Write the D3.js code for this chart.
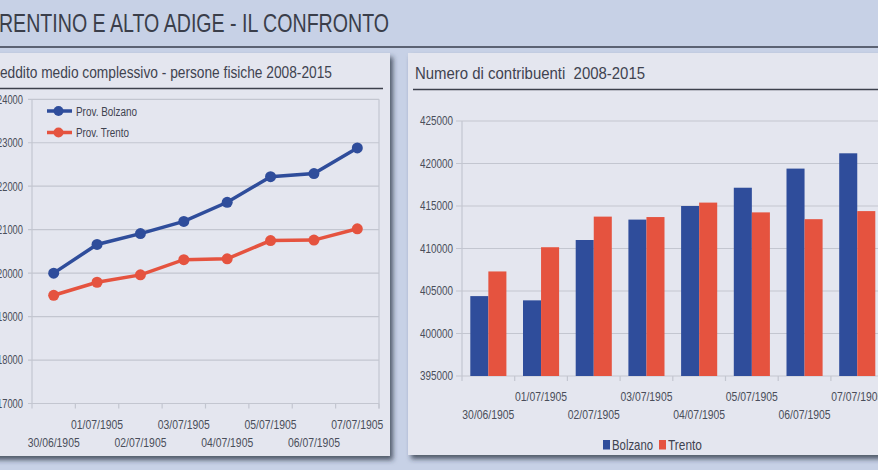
<!DOCTYPE html>
<html>
<head>
<meta charset="utf-8">
<script src="https://cdn.jsdelivr.net/npm/d3@7"></script>
<style>
  body { margin: 0; background: #c7d1e6; }
  text { font-family: "Liberation Sans", Arial, sans-serif; fill: #3f4350; white-space: pre; }
  .tick { font-size: 12.5px; fill: #4a4e5a; }
</style>
</head>
<body>
<div id="chart"></div>
<script>
const anni = ["30/06/1905", "01/07/1905", "02/07/1905", "03/07/1905",
              "04/07/1905", "05/07/1905", "06/07/1905", "07/07/1905"];
const redditoBolzano = [20000, 20660, 20910, 21190, 21630, 22220, 22290, 22880];
const redditoTrento  = [19490, 19790, 19960, 20310, 20330, 20750, 20760, 21020];
const redditoTicks = [17000, 18000, 19000, 20000, 21000, 22000, 23000, 24000];

const contribBolzano = [404400, 403900, 411000, 413400, 415000, 417150, 419400, 421200];
const contribTrento  = [407300, 410150, 413750, 413700, 415400, 414250, 413450, 414400];
const contribTicks = [395000, 400000, 405000, 410000, 415000, 420000, 425000];

const blu = "#2f4d9b";
const rosso = "#e5533f";

const svg = d3.select("#chart")
    .append("svg")
    .attr("width", 878)
    .attr("height", 470);

const defs = svg.append("defs");
const f = defs.append("filter").attr("id", "ombra")
    .attr("x", "-5%").attr("y", "-5%").attr("width", "115%").attr("height", "115%");
f.append("feDropShadow").attr("dx", 3).attr("dy", 4).attr("stdDeviation", 2.5)
    .attr("flood-color", "#2a3040").attr("flood-opacity", 0.75);

// titolo pagina (la T iniziale esce dal bordo, come nell'originale)
svg.append("text")
    .attr("x", 389).attr("y", 32)
    .attr("text-anchor", "end")
    .attr("textLength", 402).attr("lengthAdjust", "spacingAndGlyphs")
    .style("font-size", "26px")
    .style("fill", "#3a3e4a")
    .text("TRENTINO E ALTO ADIGE - IL CONFRONTO");

svg.append("line")
    .attr("x1", 0).attr("x2", 878).attr("y1", 47).attr("y2", 47)
    .attr("stroke", "#5b6273").attr("stroke-width", 2);

// pannelli
svg.append("rect").attr("x", -10).attr("y", 53).attr("width", 400).attr("height", 403)
    .attr("fill", "#e4e6ef").attr("filter", "url(#ombra)");
svg.append("rect").attr("x", 408).attr("y", 53).attr("width", 490).attr("height", 402)
    .attr("fill", "#e4e6ef").attr("filter", "url(#ombra)");

// ---------- grafico a linee ----------
const left = svg.append("g");

left.append("text")
    .attr("x", 332).attr("y", 78)
    .attr("text-anchor", "end")
    .attr("textLength", 342).attr("lengthAdjust", "spacingAndGlyphs")
    .style("font-size", "16px")
    .text("Reddito medio complessivo - persone fisiche 2008-2015");
left.append("line")
    .attr("x1", 0).attr("x2", 383).attr("y1", 88.5).attr("y2", 88.5)
    .attr("stroke", "#3c404c").attr("stroke-width", 1.5);

const xL = d3.scaleBand().domain(anni).range([32, 379]);
const yL = d3.scaleLinear().domain([17000, 24000]).range([403.5, 99.3]);

left.selectAll(".grid")
    .data(redditoTicks)
    .join("line")
    .attr("x1", 28).attr("x2", 379)
    .attr("y1", d => yL(d)).attr("y2", d => yL(d))
    .attr("stroke", "#c3c6d0").attr("stroke-width", 1.2);

left.append("line").attr("x1", 32).attr("x2", 32).attr("y1", yL(24000)).attr("y2", yL(17000) + 5)
    .attr("stroke", "#c3c6d0").attr("stroke-width", 1.2);
left.append("line").attr("x1", 379).attr("x2", 379).attr("y1", yL(24000)).attr("y2", yL(17000) + 5)
    .attr("stroke", "#c3c6d0").attr("stroke-width", 1.2);

left.selectAll(".ytick")
    .data(redditoTicks)
    .join("text")
    .attr("class", "tick")
    .attr("x", 23).attr("y", d => yL(d))
    .attr("dy", "0.35em")
    .attr("text-anchor", "end")
    .attr("textLength", 26).attr("lengthAdjust", "spacingAndGlyphs")
    .text(d => d);

left.selectAll(".xtick")
    .data(anni)
    .join("line")
    .attr("x1", d => xL(d) + xL.bandwidth()).attr("x2", d => xL(d) + xL.bandwidth())
    .attr("y1", yL(17000)).attr("y2", yL(17000) + 5)
    .attr("stroke", "#c3c6d0").attr("stroke-width", 1.2);

left.selectAll(".xlab")
    .data(anni)
    .join("text")
    .attr("class", "tick")
    .attr("x", d => xL(d) + xL.bandwidth() / 2)
    .attr("y", (d, i) => i % 2 ? 429 : 447)
    .attr("text-anchor", "middle")
    .attr("textLength", 52).attr("lengthAdjust", "spacingAndGlyphs")
    .text(d => d);

const serieL = [
    {nome: "Prov. Bolzano", valori: redditoBolzano, colore: blu, w: 61},
    {nome: "Prov. Trento", valori: redditoTrento, colore: rosso, w: 53}
];

const line = d3.line()
    .x((d, i) => xL(anni[i]) + xL.bandwidth() / 2)
    .y(d => yL(d));

serieL.forEach((s, k) => {
    left.append("path")
        .datum(s.valori)
        .attr("fill", "none")
        .attr("stroke", s.colore)
        .attr("stroke-width", 3.5)
        .attr("d", line);
    left.selectAll(".p" + k)
        .data(s.valori)
        .join("circle")
        .attr("cx", (d, i) => xL(anni[i]) + xL.bandwidth() / 2)
        .attr("cy", d => yL(d))
        .attr("r", 5.5)
        .attr("fill", s.colore);

    // legenda
    const ly = 111 + k * 21.5;
    left.append("line").attr("x1", 47).attr("x2", 72).attr("y1", ly).attr("y2", ly)
        .attr("stroke", s.colore).attr("stroke-width", 3.5);
    left.append("circle").attr("cx", 58.5).attr("cy", ly).attr("r", 5).attr("fill", s.colore);
    left.append("text").attr("x", 76).attr("y", ly + 4.5)
        .attr("textLength", s.w).attr("lengthAdjust", "spacingAndGlyphs")
        .style("font-size", "12.5px").text(s.nome);
});

// ---------- grafico a barre ----------
const right = svg.append("g");

right.append("text")
    .attr("x", 415).attr("y", 78.5)
    .attr("textLength", 230).attr("lengthAdjust", "spacingAndGlyphs")
    .style("font-size", "16px")
    .text("Numero di contribuenti  2008-2015");
right.append("line")
    .attr("x1", 413).attr("x2", 878).attr("y1", 89.5).attr("y2", 89.5)
    .attr("stroke", "#3c404c").attr("stroke-width", 1.5);

const x0 = d3.scaleBand().domain(anni).range([462, 462 + 8 * 52.7]);
const x1 = d3.scaleBand().domain(["Bolzano", "Trento"]).range([0, x0.bandwidth()]).paddingOuter(0.46);
const yR = d3.scaleLinear().domain([395000, 425000]).range([376, 121]);

right.selectAll(".grid")
    .data(contribTicks)
    .join("line")
    .attr("x1", 456).attr("x2", 878)
    .attr("y1", d => yR(d)).attr("y2", d => yR(d))
    .attr("stroke", "#c3c6d0").attr("stroke-width", 1.2);

right.append("line").attr("x1", 462).attr("x2", 462).attr("y1", yR(425000)).attr("y2", yR(395000) + 5)
    .attr("stroke", "#c3c6d0").attr("stroke-width", 1.2);

right.selectAll(".ytick")
    .data(contribTicks)
    .join("text")
    .attr("class", "tick")
    .attr("x", 453).attr("y", d => yR(d))
    .attr("dy", "0.35em")
    .attr("text-anchor", "end")
    .attr("textLength", 33).attr("lengthAdjust", "spacingAndGlyphs")
    .text(d => d);

right.selectAll(".xtick")
    .data(anni)
    .join("line")
    .attr("x1", d => x0(d) + x0.bandwidth()).attr("x2", d => x0(d) + x0.bandwidth())
    .attr("y1", yR(395000)).attr("y2", yR(395000) + 5)
    .attr("stroke", "#c3c6d0").attr("stroke-width", 1.2);

right.selectAll(".xlab")
    .data(anni)
    .join("text")
    .attr("class", "tick")
    .attr("x", d => x0(d) + x0.bandwidth() / 2)
    .attr("y", (d, i) => i % 2 ? 400.5 : 419)
    .attr("text-anchor", "middle")
    .attr("textLength", 52).attr("lengthAdjust", "spacingAndGlyphs")
    .text(d => d);

const serieR = [
    {nome: "Bolzano", valori: contribBolzano, colore: blu, w: 41},
    {nome: "Trento", valori: contribTrento, colore: rosso, w: 34}
];

serieR.forEach(s => {
    right.selectAll(".b" + s.nome)
        .data(s.valori)
        .join("rect")
        .attr("x", (d, i) => x0(anni[i]) + x1(s.nome))
        .attr("width", x1.bandwidth())
        .attr("y", d => yR(d))
        .attr("height", d => yR(395000) - yR(d))
        .attr("fill", s.colore);
});

// legenda barre
const leg = right.append("g").attr("transform", "translate(603,439)");
let lx = 0;
serieR.forEach(s => {
    leg.append("rect").attr("x", lx).attr("y", 1).attr("width", 7).attr("height", 9.5).attr("fill", s.colore);
    leg.append("text").attr("x", lx + 9).attr("y", 10.5)
        .attr("textLength", s.w).attr("lengthAdjust", "spacingAndGlyphs")
        .style("font-size", "14.5px").text(s.nome);
    lx += 9 + s.w + 6;
});
</script>
</body>
</html>
